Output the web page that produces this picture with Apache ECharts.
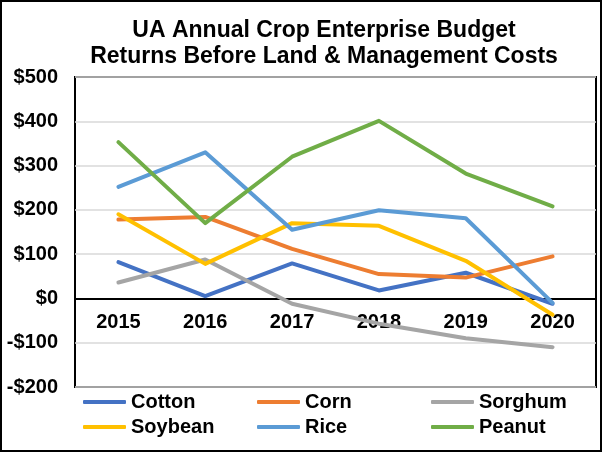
<!DOCTYPE html>
<html><head><meta charset="utf-8">
<script src="https://cdn.jsdelivr.net/npm/echarts@6/dist/echarts.min.js"></script>
<style>html,body{margin:0;padding:0;background:#fff}#c{width:602px;height:452px}</style>
</head><body><div id="c"></div>
<script>
var years = ['2015','2016','2017','2018','2019','2020'];
var cotton  = [82, 5, 79, 18, 58, -12];
var corn    = [178, 184, 112, 55, 47, 95];
var sorghum = [36, 88, -12, -57, -90, -110];
var soybean = [190, 78, 170, 164, 85, -37];
var rice    = [252, 330, 155, 199, 181, -10];
var peanut  = [353, 170, 320, 401, 282, 208];
var names = ['Cotton','Corn','Sorghum','Soybean','Rice','Peanut'];
var colors = ['#4472C4','#ED7D31','#A5A5A5','#FFC000','#5B9BD5','#70AD47'];
var dataSets = [cotton, corn, sorghum, soybean, rice, peanut];

var font = 'Liberation Sans, Arial, sans-serif';
var legendPos = [[83,392],[257,392],[431,392],[83,417],[257,417],[431,417]];
var chart = echarts.init(document.getElementById('c'));
chart.setOption({
  animation: false,
  title: {
    text: 'UA Annual Crop Enterprise Budget\nReturns Before Land & Management Costs',
    left: 324, top: 18, textAlign: 'center', padding: 0,
    textStyle: {fontFamily: font, fontSize: 23, fontWeight: 'bold', color: '#000', lineHeight: 26}
  },
  legend: names.map(function(n, i){
    return {
      data: [n], left: legendPos[i][0], top: legendPos[i][1], padding: 0,
      icon: 'roundRect', itemWidth: 43, itemHeight: 4, itemGap: 4,
      textStyle: {fontFamily: font, fontSize: 20, fontWeight: 'bold', color: '#000'}
    };
  }),
  grid: {left: 75, top: 77, right: 6, bottom: 65, show: true, borderColor: '#000', borderWidth: 2, containLabel: false},
  xAxis: {
    type: 'category', data: years, boundaryGap: true,
    offset: -88.6,
    axisLine: {onZero: false, lineStyle: {color: '#000', width: 2}},
    axisTick: {show: false},
    axisLabel: {fontFamily: font, fontSize: 20, fontWeight: 'bold', color: '#000', margin: 14}
  },
  yAxis: {
    type: 'value', min: -200, max: 500, interval: 100,
    axisLine: {show: false}, axisTick: {show: false},
    splitLine: {lineStyle: {color: '#D9D9D9', width: 1.5}},
    axisLabel: {fontFamily: font, fontSize: 20, fontWeight: 'bold', color: '#000', margin: 17,
      formatter: function(v){ return v < 0 ? '-$' + Math.abs(v) : '$' + v; }}
  },
  series: names.map(function(n, i){
    return {name: n, type: 'line', data: dataSets[i], symbol: 'none', showSymbol: false,
      lineStyle: {color: colors[i], width: 4, cap: 'round', join: 'round'}, itemStyle: {color: colors[i]}};
  }),
  graphic: [{type: 'rect', shape: {x: 1, y: 1, width: 600, height: 450}, style: {fill: 'none', stroke: '#000', lineWidth: 2}, silent: true}]
});
</script></body></html>
